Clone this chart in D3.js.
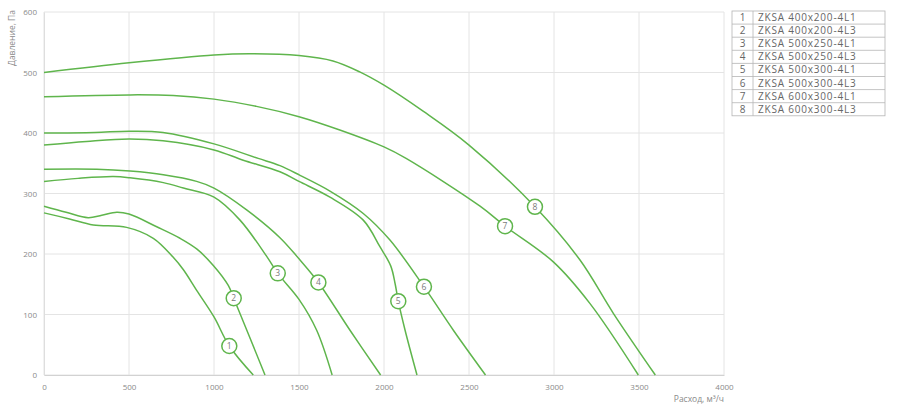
<!DOCTYPE html>
<html>
<head>
<meta charset="utf-8">
<script src="https://cdn.jsdelivr.net/npm/d3@7"></script>
<style>
    body { margin: 0; background: #fff; }
    text { font-family: "Open Sans", sans-serif; }
</style>
</head>
<body>
<svg width="900" height="408"></svg>
<script>
// fan curves: [flow m3/h, pressure Pa]
const curve1 = [[0, 268], [150, 258], [290, 248], [486, 244], [643, 226], [759, 195], [820, 174], [898, 140], [1000, 96], [1090, 48], [1231, 0]];
const curve2 = [[0, 279], [130, 269], [260, 260], [340, 264], [428, 269], [500, 266], [663, 245], [800, 226], [900, 208], [996, 181], [1084, 148], [1116, 127], [1300, 0]];
const curve3 = [[0, 320], [200, 325], [408, 328], [506, 326], [702, 318], [820, 309], [1000, 294], [1153, 256], [1310, 196], [1375, 168], [1500, 125], [1604, 74], [1695, 0]];
const curve4 = [[0, 340], [310, 340], [506, 337], [702, 331], [898, 320], [1000, 309], [1192, 273], [1388, 227], [1500, 192], [1614, 153], [1800, 74], [1980, 0]];
const curve5 = [[0, 380], [250, 386], [500, 390], [700, 387], [1000, 372], [1172, 355], [1388, 336], [1500, 320], [1682, 294], [1878, 256], [1976, 212], [2040, 180], [2066, 150], [2084, 122], [2124, 74], [2194, 0]];
const curve6 = [[0, 400], [300, 401], [500, 403], [700, 401], [1000, 382], [1260, 358], [1388, 346], [1506, 330], [1682, 304], [1878, 267], [2035, 223], [2235, 146], [2408, 74], [2597, 0]];
const curve7 = [[0, 460], [500, 463], [760, 462], [1000, 456], [1250, 444], [1500, 427], [1740, 405], [2000, 377], [2130, 358], [2565, 279], [2712, 246], [2996, 187], [3212, 118], [3496, 0]];
const curve8 = [[0, 500], [500, 516], [1000, 529], [1210, 531], [1500, 528], [1700, 519], [1857, 501], [2000, 479], [2230, 436], [2500, 380], [2888, 278], [3153, 190], [3349, 102], [3596, 0]];

const curves = [curve1, curve2, curve3, curve4, curve5, curve6, curve7, curve8];

// where the number badge sits on each curve
const labelFlow = [1090, 1116, 1375, 1614, 2084, 2235, 2712, 2888];
const labelPressure = [48, 127, 168, 153, 122, 146, 246, 278];

const models = [
    "ZKSA 400x200-4L1", "ZKSA 400x200-4L3",
    "ZKSA 500x250-4L1", "ZKSA 500x250-4L3",
    "ZKSA 500x300-4L1", "ZKSA 500x300-4L3",
    "ZKSA 600x300-4L1", "ZKSA 600x300-4L3"
];

const xTicks = [0, 500, 1000, 1500, 2000, 2500, 3000, 3500, 4000];
const yTicks = [0, 100, 200, 300, 400, 500, 600];

const green = "#5fb54c";

var svg = d3.select("svg"),
    margin = { top: 12, left: 44 },
    w = 680,
    h = 363;

var x = d3.scaleLinear().domain([0, 4000]).range([0, w]);
var y = d3.scaleLinear().domain([0, 600]).range([h, 0]);

var g = svg.append("g").attr("transform", `translate(${margin.left},${margin.top})`);

// grid
g.append("g").selectAll("line")
    .data(xTicks)
    .enter().append("line")
    .attr("x1", d => x(d)).attr("x2", d => x(d))
    .attr("y1", 0).attr("y2", h)
    .attr("stroke", "#e4e4e4").attr("stroke-width", 1);

g.append("g").selectAll("line")
    .data(yTicks)
    .enter().append("line")
    .attr("x1", 0).attr("x2", w)
    .attr("y1", d => y(d)).attr("y2", d => y(d))
    .attr("stroke", "#e4e4e4").attr("stroke-width", 1);

// axes
var xAxis = g.append("g")
    .attr("transform", `translate(0,${h})`)
    .call(d3.axisBottom(x).tickValues(xTicks).tickFormat(d3.format("d")).tickSize(0).tickPadding(9));
xAxis.select(".domain").attr("stroke", "#d2d2d2");

var yAxis = g.append("g")
    .call(d3.axisLeft(y).tickValues(yTicks).tickFormat(d3.format("d")).tickSize(0).tickPadding(7));
yAxis.select(".domain").attr("stroke", "#dedede");

svg.selectAll(".tick text")
    .attr("fill", "#8a8a8a")
    .style("font-size", "8px")
    .style("font-family", "\"Open Sans\", sans-serif");

svg.append("text")
    .attr("x", 724).attr("y", 402)
    .attr("text-anchor", "end")
    .attr("fill", "#8a8a8a")
    .style("font-size", "8.5px")
    .text("Расход, м³/ч");

svg.append("text")
    .attr("transform", "translate(15,10) rotate(-90)")
    .attr("text-anchor", "end")
    .attr("fill", "#8a8a8a")
    .style("font-size", "8.5px")
    .text("Давление, Па");

// curves
var line = d3.line()
    .x(d => x(d[0]))
    .y(d => y(d[1]))
    .curve(d3.curveCatmullRom.alpha(0.5));

g.append("g").selectAll("path")
    .data(curves)
    .enter().append("path")
    .attr("d", line)
    .attr("fill", "none")
    .attr("stroke", green)
    .attr("stroke-width", 1.5);

// number badges
var badge = g.append("g").selectAll("g")
    .data(labelFlow)
    .enter().append("g")
    .attr("transform", (d, i) => `translate(${x(d)},${y(labelPressure[i])})`);

badge.append("circle")
    .attr("r", 7.5)
    .attr("fill", "#fff")
    .attr("stroke", green)
    .attr("stroke-width", 1.5);

badge.append("text")
    .attr("text-anchor", "middle")
    .attr("dy", "0.35em")
    .attr("fill", "#7a7a7a")
    .style("font-size", "8.5px")
    .text((d, i) => i + 1);

// legend table
var lx = 732, ly = 11, lw = 153, rowH = 13.1, colX = 753;
var legend = svg.append("g");

legend.append("rect")
    .attr("x", lx).attr("y", ly)
    .attr("width", lw).attr("height", rowH * models.length)
    .attr("fill", "#fff")
    .attr("stroke", "#b5b5b5").attr("stroke-width", 0.8);

legend.append("line")
    .attr("x1", colX).attr("x2", colX)
    .attr("y1", ly).attr("y2", ly + rowH * models.length)
    .attr("stroke", "#b5b5b5").attr("stroke-width", 0.8);

legend.selectAll(".row-line")
    .data(models.slice(1))
    .enter().append("line")
    .attr("x1", lx).attr("x2", lx + lw)
    .attr("y1", (d, i) => ly + rowH * (i + 1))
    .attr("y2", (d, i) => ly + rowH * (i + 1))
    .attr("stroke", "#b5b5b5").attr("stroke-width", 0.8);

legend.selectAll(".num")
    .data(models)
    .enter().append("text")
    .attr("x", (lx + colX) / 2)
    .attr("y", (d, i) => ly + rowH * i + rowH / 2)
    .attr("dy", "0.35em")
    .attr("text-anchor", "middle")
    .attr("fill", "#666")
    .style("font-size", "10px")
    .text((d, i) => i + 1);

legend.selectAll(".name")
    .data(models)
    .enter().append("text")
    .attr("x", colX + 5)
    .attr("y", (d, i) => ly + rowH * i + rowH / 2)
    .attr("dy", "0.35em")
    .attr("fill", "#666")
    .style("font-size", "10px")
    .style("letter-spacing", "0.8px")
    .text(d => d);
</script>
</body>
</html>
